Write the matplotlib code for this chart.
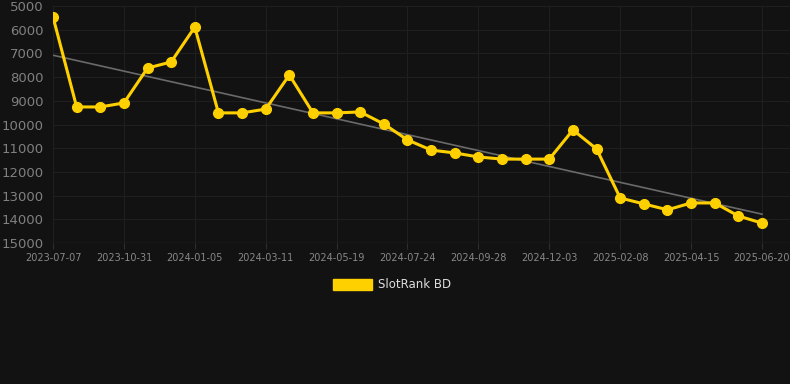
import numpy as np
import matplotlib
matplotlib.use("Agg")
import matplotlib.pyplot as plt

# rank per snapshot (lower is better, axis is inverted)
ranks = [5460, 9260, 9260, 9090, 7620, 7360, 5890, 9510, 9510, 9350,
         7910, 9510, 9510, 9470, 9980, 10650, 11080, 11200, 11370, 11460,
         11460, 11460, 10230, 11030, 13100, 13350, 13600, 13310, 13310, 13860,
         14160]
tick_labels = ["2023-07-07", "2023-10-31", "2024-01-05", "2024-03-11", "2024-05-19",
               "2024-07-24", "2024-09-28", "2024-12-03", "2025-02-08", "2025-04-15",
               "2025-06-20"]
series_name = "SlotRank BD"

bg = "#121212"
yellow = "#ffd000"

fig = plt.figure(figsize=(7.9, 3.84), dpi=100, facecolor=bg)
ax = fig.add_axes([53 / 790, 141 / 384, 737 / 790, 237 / 384], facecolor=bg)

x = np.arange(len(ranks))
# linear trend over the series
k, b = np.polyfit(x, ranks, 1)
ax.plot(x, k * x + b, color="#6a6a6a", lw=1.2, zorder=2)
ax.plot(x, ranks, color=yellow, lw=2.2, marker="o", ms=7, zorder=3)

ax.set_xlim(0, 30 + 28 / 23.63)
ax.set_ylim(15000, 5000)
ax.set_yticks(range(5000, 15001, 1000))
ax.set_xticks(x[::3])
ax.set_xticklabels(tick_labels)

ax.grid(True, color="#1f1f1f", lw=0.8)
ax.set_axisbelow(True)
for s in ax.spines.values():
    s.set_visible(False)
ax.axhline(15000, color="#2e2e2e", lw=1, zorder=1)

ax.tick_params(axis="y", colors="#808080", labelsize=9.5, length=0, pad=7)
ax.tick_params(axis="x", colors="#2e2e2e", labelcolor="#888888", labelsize=7, length=4, pad=3)

# legend
fig.patches.append(plt.Rectangle((333 / 790, 1 - 290 / 384), 39 / 790, 11 / 384,
                                 transform=fig.transFigure, color=yellow))
fig.text(378 / 790, 1 - 285 / 384, series_name, color="#dddddd", fontsize=8.5,
         va="center", ha="left")

fig.savefig("out.png", dpi=100, facecolor=bg)
